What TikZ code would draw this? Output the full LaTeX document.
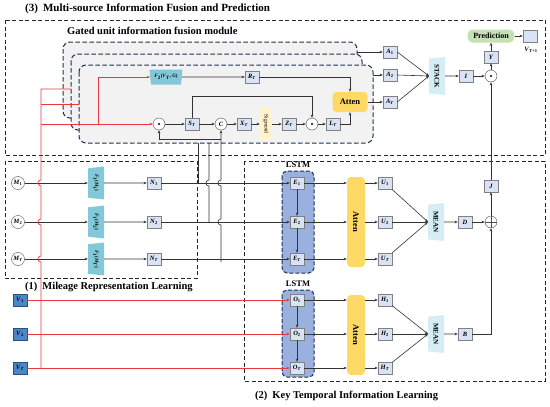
\documentclass[tikz,border=0pt]{standalone}
\usepackage{fontspec}
\setmainfont{Liberation Serif}
\usetikzlibrary{arrows.meta,shapes.geometric,positioning}
\definecolor{cellblue}{HTML}{DAE3F3}
\definecolor{vblue}{HTML}{4A86C8}
\definecolor{lstmblue}{HTML}{9AB0DE}
\definecolor{trapcyan}{HTML}{82C8D8}
\definecolor{meancyan}{HTML}{D5EDF4}
\definecolor{attenyel}{HTML}{FFD966}
\definecolor{sigyel}{HTML}{FFF2CC}
\definecolor{predgreen}{HTML}{C5E0B4}
\definecolor{navydash}{HTML}{1F3050}
\definecolor{redline}{HTML}{E8383D}
\newcommand{\vlab}[2]{\textbf{\textit{#1}}\textsubscript{\textbf{#2}}}
\newcommand{\vlabT}[1]{\textbf{\textit{#1}}\textsubscript{\textbf{\textit{T}}}}
\tikzset{
  ln/.style={draw=black!80, line width=0.6pt},
  arr/.style={ln, -{Stealth[length=3.2pt,width=2.6pt]}},
  redl/.style={draw=redline, line width=0.7pt},
  redarr/.style={redl, -{Stealth[length=3.2pt,width=2.6pt]}},
  cell/.style={draw=black!50, fill=cellblue, minimum width=14pt, minimum height=12pt, inner sep=0pt, font=\fontsize{6.5}{7}\selectfont},
  vcell/.style={cell, fill=vblue, draw=vblue!60!black},
  opc/.style={circle, draw=black!70, fill=white, minimum size=12pt, inner sep=0pt, font=\fontsize{6.5}{7}\selectfont},
  dotop/.style={opc, path picture={\fill[black] (path picture bounding box.center) circle (1.2pt);}},
  plusop/.style={opc, path picture={\draw[black!70] (path picture bounding box.north) -- (path picture bounding box.south) (path picture bounding box.west) -- (path picture bounding box.east);}},
  ftrap/.style={trapezium, trapezium stretches=true, trapezium left angle=78, trapezium right angle=78, fill=trapcyan, inner sep=0pt, font=\fontsize{5}{5}\selectfont},
  vtrap/.style={ftrap, rotate=-90, shape border rotate=180, minimum width=33pt, minimum height=16pt},
  meanbox/.style={ftrap, fill=meancyan, rotate=-90, shape border rotate=180, minimum width=38pt, minimum height=16pt, font=\bfseries\fontsize{7}{7}\selectfont},
  atten/.style={rounded corners=4pt, fill=attenyel, inner sep=0pt, font=\bfseries\fontsize{8.5}{9}\selectfont},
  sigbox/.style={fill=sigyel, rotate=-90, minimum width=32pt, minimum height=12pt, inner sep=0pt, font=\fontsize{5.5}{6}\selectfont},
  pred/.style={rounded corners=5pt, fill=predgreen, minimum width=47pt, minimum height=13pt, inner sep=0pt, font=\bfseries\fontsize{8}{8}\selectfont},
  gate/.style={draw=navydash, dash pattern=on 4.5pt off 2.5pt, line width=1pt, fill=black!5, rounded corners=7pt},
  lstm/.style={draw=navydash, dash pattern=on 4pt off 2pt, line width=1pt, fill=lstmblue, rounded corners=5pt},
  part/.style={draw=black!85, dash pattern=on 4pt off 2.5pt, line width=1pt},
  ttl/.style={font=\bfseries\fontsize{11}{12}\selectfont, anchor=west, inner sep=0pt},
  lstmt/.style={font=\bfseries\fontsize{8.5}{9}\selectfont, inner sep=0pt}
}
\begin{document}
\begin{tikzpicture}[x=1pt,y=-1pt]
\useasboundingbox (0,0) rectangle (550,407);

%% (3) fusion and prediction
\node[ttl] (ttl3) at (25,9) {(3)\hspace{5pt}Multi-source Information Fusion and Prediction};
\draw[part] (5,20) rectangle (545,155);
\node[ttl, font=\bfseries\fontsize{10.5}{11}\selectfont] (ttlg) at (67,31) {Gated unit information fusion module};
\draw[gate] (63,42) rectangle (357,118);
\draw[gate] (71,54) rectangle (362,130);
\draw[gate] (79,65) rectangle (373,143);

\node[ftrap, shape border rotate=180, minimum width=33pt, minimum height=15pt] (fvg) at (166,77) {\textbf{\textit{F}}\textsubscript{\textbf{2}}\textbf{(\textit{V}\textsubscript{\textit{T}}, \textit{G})}};
\node[cell] (rt) at (252,77) {\vlabT{R}};
\node[atten, minimum width=35pt, minimum height=20pt] (att1) at (350,102) {Atten};
\node[dotop] (od1) at (159,124) {};
\node[cell] (st) at (192,124) {\vlabT{S}};
\node[opc] (cc) at (221,124) {\textbf{\textit{C}}};
\node[cell] (xt) at (244,124) {\vlabT{X}};
\node[sigbox] (sig) at (266,124) {Sigmoid};
\node[cell] (zt) at (289,124) {\vlabT{Z}};
\node[dotop] (od2) at (312,124) {};
\node[cell] (lt) at (333,124) {\vlabT{L}};

\draw[arr] (fvg) -- (rt);
\draw[arr] (rt) -| (att1);
\draw[arr] (lt) -| (att1);
\coordinate (stup) at (192,96);
\draw[arr] (st) -- (stup) -| (od2);
\draw[arr] (od1) -- (st);
\draw[arr] (st) -- (cc);
\draw[arr] (cc) -- (xt);
\draw[arr] (xt) -- (sig);
\draw[arr] (sig) -- (zt);
\draw[arr] (zt) -- (od2);
\draw[arr] (od2) -- (lt);

\node[cell] (a1) at (390,52) {\vlab{A}{1}};
\node[cell] (a2) at (390,75) {\vlab{A}{2}};
\node[cell] (aT) at (390,102) {\vlabT{A}};
\coordinate (gA) at (357,52);
\coordinate (gC) at (373,75);
\draw[arr] (gA) -- (a1);
\draw[arr] (gC) -- (a2);
\draw[arr] (att1) -- (aT);
\node[meanbox] (stack) at (437,76) {STACK};
\coordinate (stk) at (429,76);
\foreach \a in {a1,a2,aT} \draw[arr] (\a.east) -- (stk);
\node[cell] (ib) at (466,76) {\textbf{\textit{I}}};
\node[dotop] (od3) at (491,76) {};
\node[cell] (yb) at (491,57) {\textbf{\textit{Y}}};
\node[pred] (pred) at (491,36) {Prediction};
\node[cell] (vout) at (530,36) {};
\node[font=\fontsize{6.5}{7}\selectfont] (voutl) at (531,50) {\vlab{V}{\textit{T}+1}};
\draw[arr] (stack) -- (ib);
\draw[arr] (ib) -- (od3);
\draw[arr] (od3) -- (yb);
\draw[arr] (yb) -- (pred);
\draw[arr] (pred) -- (vout);

%% (1) mileage representation
\draw[part] (5,161) rectangle (197,278);
\node[ttl, font=\bfseries\fontsize{10.5}{11}\selectfont] (ttl1) at (25,287) {(1)\hspace{5pt}Mileage Representation Learning};
\foreach \i/\s/\y in {1/1/183,2/2/222,3/\textit{T}/259} {
  \node[opc, minimum size=13pt] (m\i) at (18,\y) {\vlab{M}{\s}};
  \node[vtrap] (fm\i) at (96,\y) {\textbf{\textit{F}}\textsubscript{\textbf{1}}\textbf{(\textit{M}\textsubscript{\s})}};
  \node[cell] (n\i) at (154,\y) {\vlab{N}{\s}};
  \draw[arr] (m\i) -- (fm\i);
  \draw[arr] (fm\i) -- (n\i);
}

%% (2) key temporal information
\draw[part] (244,161) rectangle (545,381);
\node[ttl, font=\bfseries\fontsize{10.5}{11}\selectfont] (ttl2) at (255,396) {(2)\hspace{5pt}Key Temporal Information Learning};
\draw[lstm] (282,171) rectangle (314,273);
\draw[lstm] (282,290) rectangle (314,377);
\node[lstmt] (lstm1) at (298,165) {LSTM};
\node[lstmt] (lstm2) at (298,284) {LSTM};
\node[atten, minimum width=18pt, minimum height=90pt] (att2) at (356,222) {\rotatebox{-90}{Atten}};
\node[atten, minimum width=18pt, minimum height=80pt] (att3) at (356,335) {\rotatebox{-90}{Atten}};
\node[meanbox] (mean1) at (436,222) {MEAN};
\node[meanbox] (mean2) at (436,334) {MEAN};
\coordinate (mc1) at (428,222);
\coordinate (mc2) at (428,334);
\foreach \i/\s/\y in {1/1/183,2/2/222,3/\textit{T}/259} {
  \node[cell] (e\i) at (297,\y) {\vlab{E}{\s}};
  \node[cell] (u\i) at (385,\y) {\vlab{U}{\s}};
  \draw[arr] (n\i) -- (e\i);
  \draw[arr] (e\i) -- (e\i -| att2.west);
  \draw[arr] (u\i -| att2.east) -- (u\i);
  \draw[arr] (u\i) -- (mc1);
}
\foreach \i/\s/\y in {1/1/300,2/2/334,3/\textit{T}/368} {
  \node[cell] (o\i) at (297,\y) {\vlab{O}{\s}};
  \node[cell] (h\i) at (385,\y) {\vlab{H}{\s}};
  \node[vcell] (v\i) at (20,\y) {\vlab{V}{\s}};
  \draw[redarr] (v\i) -- (o\i);
  \draw[arr] (o\i) -- (o\i -| att3.west);
  \draw[arr] (h\i -| att3.east) -- (h\i);
  \draw[arr] (h\i) -- (mc2);
}
\draw[arr] (e1) -- (e2);
\draw[arr] (e2) -- (e3);
\draw[arr] (o1) -- (o2);
\draw[arr] (o2) -- (o3);

\node[cell] (db) at (465,222) {\textbf{\textit{D}}};
\node[plusop] (plus) at (491,222) {};
\node[cell] (jb) at (491,186) {\textbf{\textit{J}}};
\node[cell] (bb) at (465,334) {\textbf{\textit{B}}};
\draw[arr] (mean1) -- (db);
\draw[arr] (db) -- (plus);
\draw[arr] (plus) -- (jb);
\draw[arr] (jb) -- (od3);
\draw[arr] (mean2) -- (bb);
\draw[arr] (bb) -| (plus);

%% mileage lines into the gated unit
\coordinate (q1) at (198,183);
\coordinate (q1t) at (198,143);
\coordinate (q2) at (209,222);
\coordinate (q2t) at (209,143);
\coordinate (q3) at (221,259);
\coordinate (jn) at (221,139);
\draw[ln] (q1) -- (q1t);
\draw[ln] (q2) -- (209,186) .. controls (205,186) and (205,180) .. (209,180) -- (q2t);
\draw[arr] (q3) -- (221,262) -- (221,225) .. controls (217,225) and (217,219) .. (221,219) -- (221,186) .. controls (217,186) and (217,180) .. (221,180) -- (cc);
\draw[arr] (jn) -| (od1);

%% speed lines into the gated unit
\coordinate (rb) at (41,368);
\coordinate (r1) at (41,89);
\coordinate (r2) at (41,104);
\coordinate (r3) at (41,124);
\coordinate (rk) at (98,124);
\draw[redl] (rb) -- (41,262) .. controls (37,262) and (37,256) .. (41,256) -- (41,225) .. controls (37,225) and (37,219) .. (41,219) -- (41,186) .. controls (37,186) and (37,180) .. (41,180) -- (r1) -- (71,89);
\draw[redl] (r2) -- (79,104);
\draw[redarr] (r3) -- (od1);
\draw[redarr] (rk) |- (fvg);
\end{tikzpicture}
\end{document}
